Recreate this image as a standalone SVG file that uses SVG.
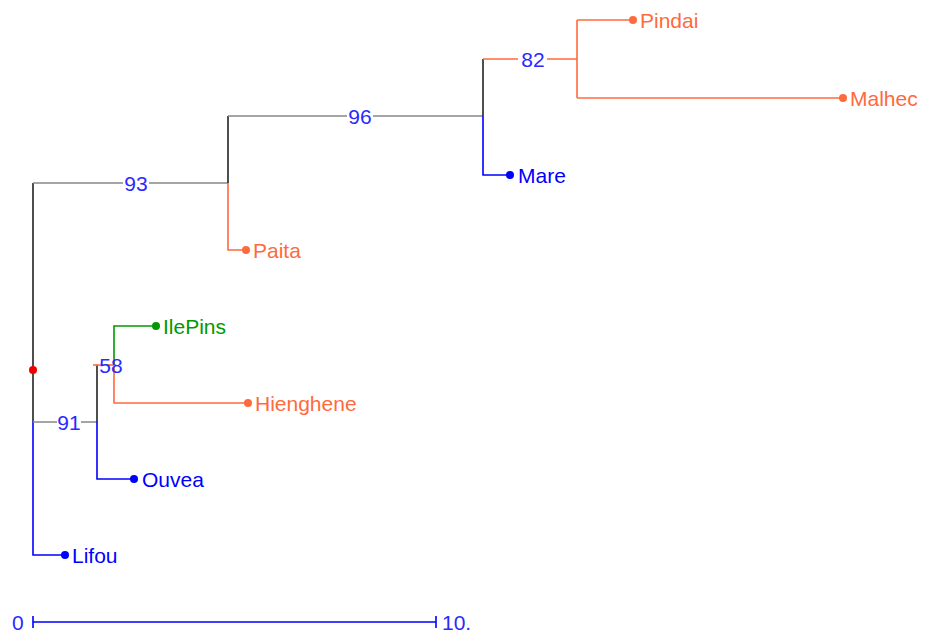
<svg xmlns="http://www.w3.org/2000/svg" width="925" height="636" viewBox="0 0 925 636">
<style>
text{font-family:"Liberation Sans",Arial,sans-serif;font-size:21px}
.ln{fill:none;stroke-width:1.6}
.k{stroke:#222}
.g{stroke:#888}
.o{stroke:#FF6A3D}
.b{stroke:#0000FF}
.gr{stroke:#009900}
.to{fill:#FF6A3D}
.tb{fill:#0000FF}
.tg{fill:#009900}
.sup{fill:#2A2AFF}
</style>
<rect width="925" height="636" fill="#fff"/>
<g id="connectors">
<path class="ln k" d="M33 183V422"/>
<path class="ln b" d="M33 422V555H65"/>
<path class="ln g" d="M33 183H123M149 183H228"/>
<path class="ln k" d="M228 116V183"/>
<path class="ln o" d="M228 183V250H246"/>
<path class="ln g" d="M228 116H347M373 116H483"/>
<path class="ln k" d="M483 59V116"/>
<path class="ln b" d="M483 116V175H510"/>
<path class="ln o" d="M483 59H518M547 59H577"/>
<path class="ln o" d="M577 20V98"/>
<path class="ln o" d="M577 20H633"/>
<path class="ln o" d="M577 98H843"/>
<path class="ln g" d="M33 422H57M81 422H97"/>
<path class="ln k" d="M97 365V422"/>
<path class="ln b" d="M97 422V479H134"/>
<path class="ln o" d="M93 365H114"/>
<path class="ln gr" d="M114 365V326H156"/>
<path class="ln o" d="M114 365V403H248"/>
</g>
<g id="root"><circle cx="33" cy="370" r="4" fill="#EE0000"/></g>
<g id="n93"><text x="136" y="191" text-anchor="middle" class="sup">93</text></g>
<g id="n96"><text x="360" y="124" text-anchor="middle" class="sup">96</text></g>
<g id="n82"><text x="533" y="67" text-anchor="middle" class="sup">82</text></g>
<g id="n91"><text x="69" y="430" text-anchor="middle" class="sup">91</text></g>
<g id="n58"><text x="111" y="373" text-anchor="middle" class="sup">58</text></g>
<g id="Pindai"><circle cx="633" cy="20" r="4" class="to"/><text x="640" y="28" class="to">Pindai</text></g>
<g id="Malhec"><circle cx="843" cy="98" r="4" class="to"/><text x="850" y="106" class="to">Malhec</text></g>
<g id="Mare"><circle cx="510" cy="175" r="4" class="tb"/><text x="518" y="183" class="tb">Mare</text></g>
<g id="Paita"><circle cx="246" cy="250" r="4" class="to"/><text x="253" y="258" class="to">Paita</text></g>
<g id="IlePins"><circle cx="156" cy="326" r="4" class="tg"/><text x="163" y="334" class="tg">IlePins</text></g>
<g id="Hienghene"><circle cx="248" cy="403" r="4" class="to"/><text x="255" y="411" class="to">Hienghene</text></g>
<g id="Ouvea"><circle cx="134" cy="479" r="4" class="tb"/><text x="142" y="487" class="tb">Ouvea</text></g>
<g id="Lifou"><circle cx="65" cy="555" r="4" class="tb"/><text x="72" y="563" class="tb">Lifou</text></g>
<g id="scale">
<path class="ln b" d="M33 622H436M33 616V628M436 616V628"/>
<text x="12" y="630" class="sup">0</text>
<text x="442" y="630" class="sup">10.</text>
</g>
</svg>
